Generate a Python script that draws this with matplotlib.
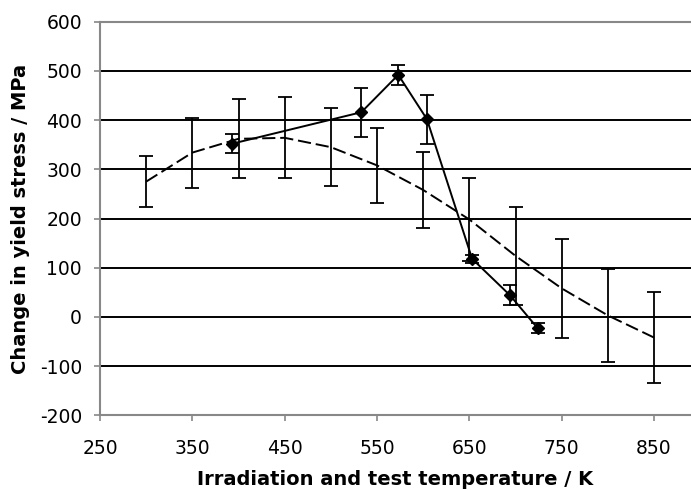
import matplotlib
matplotlib.use("Agg")
import matplotlib.pyplot as plt

plt.rcParams["axes.unicode_minus"] = False
plt.rcParams["lines.scale_dashes"] = False

# dashed curve (model) with error bars
temp_model = [300, 350, 400, 450, 500, 550, 600, 650, 700, 750, 800, 850]
stress_model = [275, 334, 362, 364, 345, 308, 258, 198, 124, 58, 3, -42]
err_model = [52, 71, 80, 82, 79, 76, 77, 84, 99, 100, 95, 92]

# solid curve (measured) with diamond markers
temp_meas = [393, 533, 573, 604, 653, 694, 724]
stress_meas = [352, 416, 492, 402, 118, 44, -23]
err_meas = [19, 50, 20, 50, 8, 20, 10]

xticks = [250, 350, 450, 550, 650, 750, 850]
yticks = list(range(-200, 601, 100))

fig = plt.figure(figsize=(6.91, 4.9), dpi=100)
ax = fig.add_axes([0.1447, 0.1524, 0.8553, 0.8033])

for y in yticks[1:-1]:
    ax.axhline(y, color="black", lw=1.4, zorder=1)

ax.errorbar(temp_model, stress_model, yerr=err_model, color="black", lw=1.4,
            ls=(0, (9.5, 3.5)), capsize=5, capthick=1.3, elinewidth=1.3, zorder=3)
ax.errorbar(temp_meas, stress_meas, yerr=err_meas, color="black", lw=1.4,
            marker="D", markersize=6, capsize=5, capthick=1.3, elinewidth=1.3, zorder=4)

ax.set_xlim(250, 890)
ax.set_ylim(-200, 600)
ax.set_xticks(xticks)
ax.set_yticks(yticks)
ax.tick_params(labelsize=13.5, color="#888888", length=4, width=1.2)
ax.tick_params(axis="x", pad=13)
ax.tick_params(axis="y", pad=9)
for side in ["left", "bottom", "top"]:
    ax.spines[side].set_color("#888888")
    ax.spines[side].set_linewidth(1.5)
ax.spines["right"].set_visible(False)

ax.set_xlabel("Irradiation and test temperature / K", fontsize=14, fontweight="bold", labelpad=9)
ax.set_ylabel("Change in yield stress / MPa", fontsize=14, fontweight="bold", labelpad=7)

fig.savefig("out.png", dpi=100)
